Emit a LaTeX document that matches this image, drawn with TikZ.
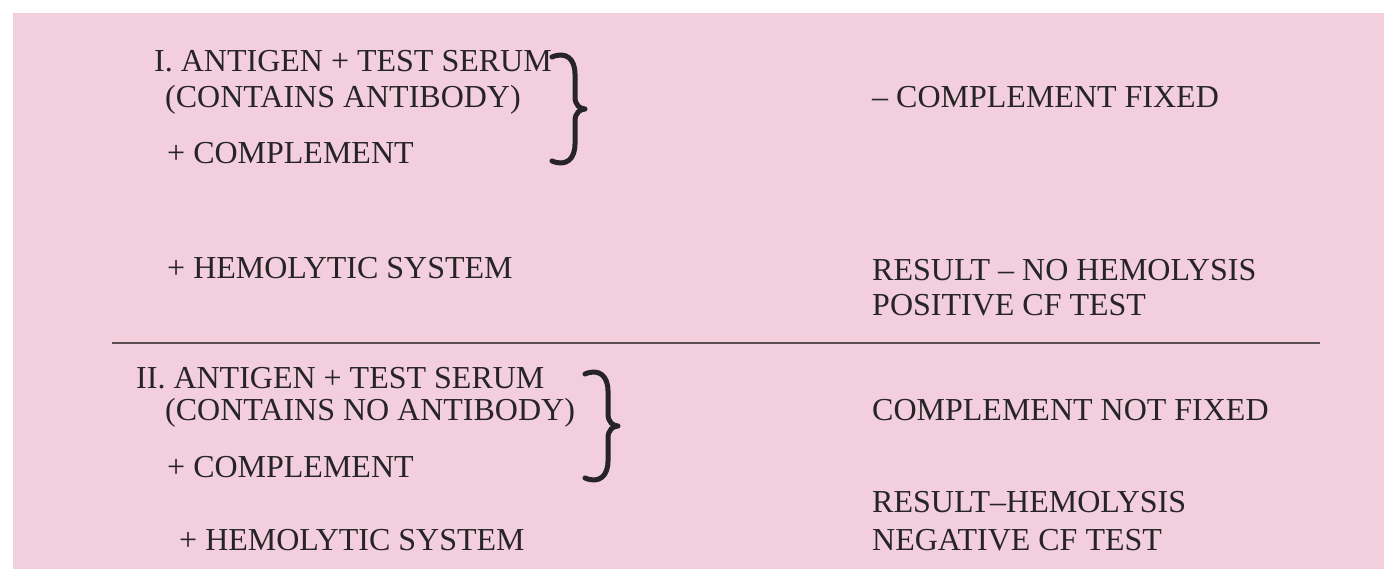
\documentclass[tikz,border=0pt]{standalone}
\usepackage{fontspec}
\setmainfont{Liberation Serif}
\definecolor{pinkbg}{RGB}{243,206,220}
\definecolor{inkc}{RGB}{38,36,38}
\definecolor{rulec}{RGB}{90,80,84}
\tikzset{
  lbl/.style={anchor=base west, inner sep=0pt, text=inkc, font=\fontsize{32}{36}\selectfont},
  bracestyle/.style={draw=inkc, line width=5pt, line cap=round, line join=round},
  cbrace/.pic={\draw[bracestyle] (0,3) .. controls (14,-3) and (23,5) .. (23,20) -- (23,43) .. controls (23,51) and (28,55) .. (33,55) .. controls (28,55) and (23,59) .. (23,67) -- (23,90) .. controls (23,105) and (14,113) .. (0,107);}
}
\begin{document}
\begin{tikzpicture}[x=1pt,y=-1pt]
\useasboundingbox (0,0) rectangle (1388,569);
\fill[white] (0,0) rectangle (1388,569);
\fill[pinkbg] (13,13) rectangle (1384,569);
% Section I
\node[lbl] (a1) at (154,72) {I. ANTIGEN + TEST SERUM};
\node[lbl] (a2) at (165,108) {(CONTAINS ANTIBODY)};
\node[lbl] (a3) at (167,164) {+ COMPLEMENT};
\node[lbl] (a4) at (167,278) {+ HEMOLYTIC SYSTEM};
\node[lbl] (r1) at (872,108) {– COMPLEMENT FIXED};
\node[lbl] (r2) at (872,280) {RESULT – NO HEMOLYSIS};
\node[lbl] (r3) at (872,315) {POSITIVE CF TEST};
\coordinate (b1) at (552,54);
\pic at (b1) {cbrace};
% rule
\coordinate (l1) at (112,343);
\coordinate (l2) at (1320,343);
\draw[rulec, line width=1.8pt] (l1) -- (l2);
% Section II
\node[lbl] (c1) at (136,388) {II. ANTIGEN + TEST SERUM};
\node[lbl] (c2) at (165,420) {(CONTAINS NO ANTIBODY)};
\node[lbl] (c3) at (167,477) {+ COMPLEMENT};
\node[lbl] (c4) at (179,550) {+ HEMOLYTIC SYSTEM};
\node[lbl] (s1) at (872,420) {COMPLEMENT NOT FIXED};
\node[lbl] (s2) at (872,512) {RESULT–HEMOLYSIS};
\node[lbl] (s3) at (872,550) {NEGATIVE CF TEST};
\coordinate (b2) at (585,371);
\pic at (b2) {cbrace};
\end{tikzpicture}
\end{document}
